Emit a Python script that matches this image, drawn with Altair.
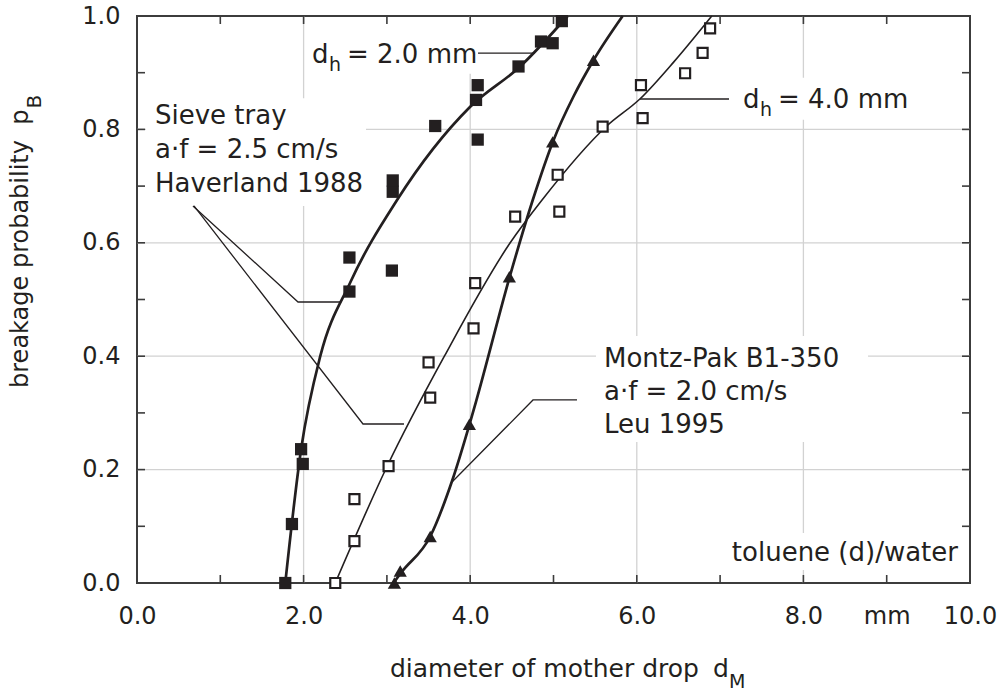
import altair as alt
import pandas as pd

# Sieve tray, hole diameter 2.0 mm (filled squares)
sieve2_x = [1.78, 1.86, 1.97, 1.99, 2.55, 2.55, 3.06, 3.07, 3.07, 3.58, 4.09, 4.07, 4.09, 4.58, 4.85, 4.99, 5.10]
sieve2_y = [0.00, 0.104, 0.236, 0.21, 0.514, 0.574, 0.551, 0.69, 0.71, 0.806, 0.782, 0.852, 0.878, 0.911, 0.955, 0.952, 0.991]

# Sieve tray, hole diameter 4.0 mm (open squares)
sieve4_x = [2.38, 2.61, 2.61, 3.02, 3.52, 3.50, 4.04, 4.06, 4.54, 5.07, 5.05, 5.59, 6.07, 6.05, 6.58, 6.79, 6.88]
sieve4_y = [0.00, 0.074, 0.148, 0.206, 0.327, 0.389, 0.449, 0.529, 0.646, 0.655, 0.72, 0.805, 0.82, 0.878, 0.899, 0.935, 0.978]

# Montz-Pak B1-350 packing (filled triangles)
montz_x = [3.09, 3.16, 3.52, 3.99, 4.47, 4.99, 5.48]
montz_y = [0.00, 0.021, 0.082, 0.28, 0.54, 0.778, 0.922]

# fitted curves through each data set
fit2_x = [1.78, 1.97, 2.20, 2.56, 3.12, 4.00, 4.60, 5.17]
fit2_y = [0.00, 0.236, 0.40, 0.53, 0.675, 0.84, 0.911, 1.00]
fit4_x = [2.38, 3.00, 3.69, 4.48, 4.86, 5.64, 6.04, 6.45, 6.90]
fit4_y = [0.00, 0.205, 0.40, 0.60, 0.675, 0.806, 0.854, 0.92, 1.00]
fitm_x = [3.08, 3.17, 3.52, 3.78, 3.99, 4.07, 4.48, 4.75, 5.00, 5.24, 5.48, 5.83]
fitm_y = [0.00, 0.018, 0.082, 0.179, 0.279, 0.32, 0.543, 0.675, 0.781, 0.858, 0.922, 1.00]

# axis ticks and grid
x_ticks = list(range(11))
y_ticks = [0.0, 0.2, 0.4, 0.6, 0.8, 1.0]
x_minor = [1, 2, 3, 4, 5, 6, 7, 8, 9]
y_minor = [0.1, 0.2, 0.3, 0.4, 0.5, 0.6, 0.7, 0.8, 0.9]
grid_x = [2, 4, 6, 8]
grid_y = [0.2, 0.4, 0.6, 0.8]

INK = "#231f20"
FRAME = "#3c3c3c"
GRID = "#d2d2d2"
FONT = "DejaVu Sans"
W, H = 833, 567

x_scale = alt.Scale(domain=[0, 10], nice=False, zero=False)
y_scale = alt.Scale(domain=[0, 1], nice=False, zero=False)
x_axis = alt.Axis(
    values=x_ticks, grid=False, ticks=False, tickSize=0, domain=False, title=None,
    labelExpr="datum.value == 9 ? 'mm' : (datum.value % 2 == 0 ? format(datum.value, '.1f') : '')",
    labelFont=FONT, labelFontSize=24, labelColor=INK, labelPadding=21, labelFlush=False,
)
y_axis = alt.Axis(
    values=y_ticks, format=".1f", grid=False, ticks=False, tickSize=0, domain=False, title=None,
    labelFont=FONT, labelFontSize=24, labelColor=INK, labelPadding=17, labelFlush=False,
)


def X(field):
    return alt.X(field, type="quantitative", scale=x_scale, axis=x_axis)


def Y(field):
    return alt.Y(field, type="quantitative", scale=y_scale, axis=y_axis)


def label(df, size, align="left", angle=0):
    mark = dict(align=align, baseline="alphabetic", font=FONT, fontSize=size, color=INK)
    if angle:
        mark["angle"] = angle
    return alt.Chart(df).mark_text(**mark).encode(x=X("x"), y=Y("y"), text="t:N")


pts2 = pd.DataFrame({"x": sieve2_x, "y": sieve2_y})
pts4 = pd.DataFrame({"x": sieve4_x, "y": sieve4_y})
ptsm = pd.DataFrame({"x": montz_x, "y": montz_y})
c2 = pd.DataFrame({"x": fit2_x, "y": fit2_y})
c4 = pd.DataFrame({"x": fit4_x, "y": fit4_y})
cm = pd.DataFrame({"x": fitm_x, "y": fitm_y})

# grid lines
gx = alt.Chart(pd.DataFrame({"v": grid_x})).mark_rule(color=GRID, strokeWidth=1.3).encode(x=X("v"))
gy = alt.Chart(pd.DataFrame({"v": grid_y})).mark_rule(color=GRID, strokeWidth=1.3).encode(y=Y("v"))

# white backing behind the annotation blocks
boxes = pd.DataFrame({
    "x": [0.108, 2.017, 7.19, 5.51, 7.0],
    "x2": [2.749, 4.058, 9.28, 8.776, 9.9],
    "y": [0.855, 0.986, 0.891, 0.4356, 0.088],
    "y2": [0.665, 0.898, 0.817, 0.2487, 0.023],
})
back = alt.Chart(boxes).mark_rect(color="white").encode(
    x=X("x"), x2="x2:Q", y=Y("y"), y2="y2:Q"
)

# leader lines from the labels to the curves
leaders = pd.DataFrame({
    "seg": ["a", "a", "a", "b", "b", "b", "c", "c", "d", "d", "e", "e", "e"],
    "o": [0, 1, 2, 0, 1, 2, 0, 1, 0, 1, 0, 1, 2],
    "x": [0.672, 1.933, 2.437, 0.684, 2.713, 3.205, 4.094, 4.778, 6.038, 7.107, 5.282, 4.754, 3.782],
    "y": [0.665, 0.4956, 0.4956, 0.665, 0.2804, 0.2804, 0.9347, 0.9347, 0.8536, 0.8536, 0.3228, 0.3228, 0.1781],
})
lead = alt.Chart(leaders).mark_line(color=INK, strokeWidth=1.3).encode(
    x=X("x"), y=Y("y"), detail="seg:N", order="o:Q"
)

line2 = alt.Chart(c2).mark_line(color=INK, strokeWidth=2.7, interpolate="monotone").encode(x=X("x"), y=Y("y"))
line4 = alt.Chart(c4).mark_line(color=INK, strokeWidth=1.6, interpolate="monotone").encode(x=X("x"), y=Y("y"))
linem = alt.Chart(cm).mark_line(color=INK, strokeWidth=2.7, interpolate="monotone").encode(x=X("x"), y=Y("y"))

sq_filled = alt.Chart(pts2).mark_point(shape="square", filled=True, size=150, color=INK, opacity=1).encode(
    x=X("x"), y=Y("y")
)
sq_open = alt.Chart(pts4).mark_point(
    shape="square", filled=True, size=100, fill="white", stroke=INK, strokeWidth=2.2, opacity=1
).encode(x=X("x"), y=Y("y"))
tri = alt.Chart(ptsm).mark_point(shape="triangle-up", filled=True, size=175, color=INK, opacity=1).encode(
    x=X("x"), y=Y("y")
)

# annotation text
notes = pd.DataFrame({
    "t": ["Sieve tray", "a\u00b7f = 2.5 cm/s", "Haverland 1988",
          "Montz-Pak B1-350", "a\u00b7f = 2.0 cm/s", "Leu 1995",
          "d", "= 2.0 mm", "d", "= 4.0 mm"],
    "x": [0.216, 0.216, 0.216, 5.606, 5.606, 5.606, 2.10, 2.521, 7.275, 7.695],
    "y": [0.8095, 0.7496, 0.6896, 0.381, 0.3228, 0.2646, 0.917, 0.917, 0.838, 0.838],
})
note_txt = label(notes, 26)
subs = pd.DataFrame({"t": ["h", "h"], "x": [2.305, 7.48], "y": [0.903, 0.824]})
sub_txt = label(subs, 19)
medium_txt = label(pd.DataFrame({"t": ["toluene (d)/water"], "x": [9.856], "y": [0.0388]}), 26, "right")

# axis titles with subscripts
xt_txt = label(pd.DataFrame({"t": ["diameter of mother drop", "d"], "x": [3.037, 6.915], "y": [-0.165, -0.165]}), 25)
xs_txt = label(pd.DataFrame({"t": ["M"], "x": [7.107], "y": [-0.185]}), 19)
yt_txt = label(pd.DataFrame({"t": ["breakage probability"], "x": [-1.3085], "y": [0.344]}), 24, "left", 270)
yp_txt = label(pd.DataFrame({"t": ["p"], "x": [-1.3085], "y": [0.808]}), 24, "left", 270)
ys_txt = label(pd.DataFrame({"t": ["B"], "x": [-1.1525], "y": [0.837]}), 20, "left", 270)

# inward ticks on all four sides
tb = alt.Chart(pd.DataFrame({"v": x_minor})).mark_rule(color=FRAME, strokeWidth=1.6).encode(
    x=X("v"), y=alt.value(H), y2=alt.value(H - 8)
)
tt = alt.Chart(pd.DataFrame({"v": x_minor})).mark_rule(color=FRAME, strokeWidth=1.6).encode(
    x=X("v"), y=alt.value(0), y2=alt.value(8)
)
tl = alt.Chart(pd.DataFrame({"v": y_minor})).mark_rule(color=FRAME, strokeWidth=1.6).encode(
    y=Y("v"), x=alt.value(0), x2=alt.value(8)
)
tr = alt.Chart(pd.DataFrame({"v": y_minor})).mark_rule(color=FRAME, strokeWidth=1.6).encode(
    y=Y("v"), x=alt.value(W - 8), x2=alt.value(W)
)

chart = alt.layer(
    gx, gy, back, lead, line4, line2, linem, sq_open, sq_filled, tri,
    note_txt, sub_txt, medium_txt, xt_txt, xs_txt, yt_txt, yp_txt, ys_txt,
    tb, tt, tl, tr,
).properties(
    width=W, height=H,
    padding={"left": 137, "top": 16, "right": 29, "bottom": 113},
    autosize=alt.AutoSizeParams(type="none"),
    background="white",
).configure_view(stroke=FRAME, strokeWidth=2)

chart.save("out.html", embed_options={"renderer": "svg", "actions": False})
